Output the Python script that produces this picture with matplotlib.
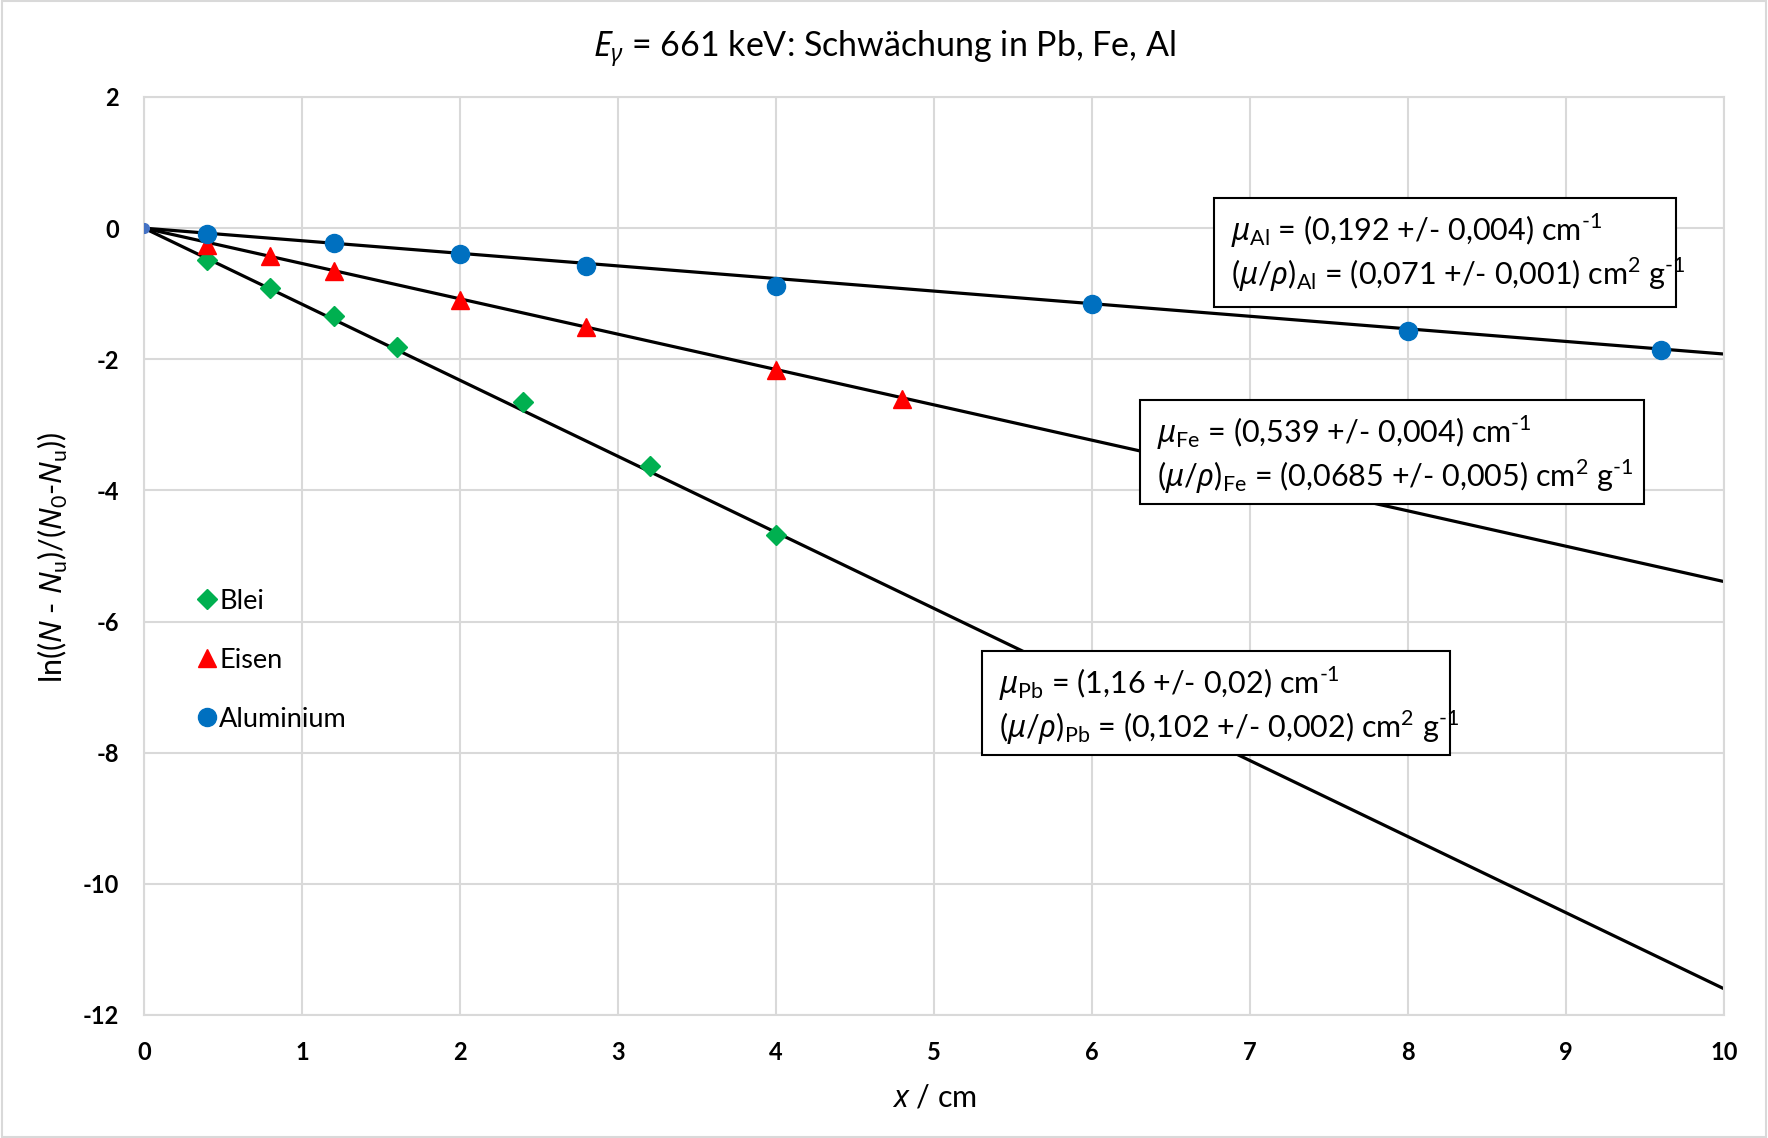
import matplotlib
matplotlib.use('Agg')
import matplotlib.pyplot as plt
from matplotlib.patches import Rectangle
import numpy as np

plt.rcParams['font.family'] = ['Lato', 'DejaVu Sans']
plt.rcParams['mathtext.fontset'] = 'custom'
plt.rcParams['mathtext.rm'] = 'Lato'
plt.rcParams['mathtext.it'] = 'Noto Sans:italic'
plt.rcParams['mathtext.bf'] = 'Lato:bold'
plt.rcParams['axes.unicode_minus'] = False

# measured data
x_pb = [0.4, 0.8, 1.2, 1.6, 2.4, 3.2, 4.0]
y_pb = [-0.48, -0.91, -1.34, -1.81, -2.65, -3.63, -4.68]
x_fe = [0.4, 0.8, 1.2, 2.0, 2.8, 4.0, 4.8]
y_fe = [-0.26, -0.43, -0.65, -1.10, -1.51, -2.17, -2.61]
x_al = [0.4, 1.2, 2.0, 2.8, 4.0, 6.0, 8.0, 9.6]
y_al = [-0.09, -0.22, -0.40, -0.57, -0.88, -1.15, -1.57, -1.86]

# fitted attenuation coefficients (cm^-1)
mu_pb, mu_fe, mu_al = 1.16, 0.539, 0.192
x_fit = np.array([0, 10])

green = '#00B050'
red = '#FF0000'
blue = '#0070C0'
grid_c = '#D9D9D9'

fig = plt.figure(figsize=(17.68, 11.38), dpi=100)
ax = fig.add_axes([144/1768, 1 - 1015/1138, (1724-144)/1768, (1015-97)/1138])

for mu in (mu_pb, mu_fe, mu_al):
    ax.plot(x_fit, -mu * x_fit, color='black', lw=2.3, zorder=2)

ax.plot(x_pb, y_pb, 'D', color=green, ms=10, label='Blei', zorder=3)
ax.plot(x_fe, y_fe, '^', color=red, ms=13, label='Eisen', zorder=3)
ax.plot(x_al, y_al, 'o', color=blue, ms=13, label='Aluminium', zorder=3)
ax.plot([0], [0], 'o', color='#4472C4', ms=7, zorder=4)

ax.set_xlim(0, 10)
ax.set_ylim(-12, 2)
ax.set_xticks(range(0, 11))
ax.set_yticks(range(-12, 3, 2))
ax.grid(True, color=grid_c, lw=1.5)
ax.set_axisbelow(True)
for s in ax.spines.values():
    s.set_color(grid_c)
    s.set_linewidth(1.5)
ax.tick_params(length=0, labelsize=17)
ax.tick_params(axis='x', pad=19)
ax.tick_params(axis='y', pad=18)
for lab in ax.get_xticklabels() + ax.get_yticklabels():
    lab.set_fontweight('bold')

ax.set_xlabel(r'$x$ / cm', fontsize=22, labelpad=14)
fig.text(53/1768, 1 - 558/1138,
         r'ln(($N$ - $N_{\mathrm{u}}$)/($N_{\mathrm{0}}$-$N_{\mathrm{u}}$))',
         rotation=90, ha='center', va='center', fontsize=22)
fig.text(0.5, 1 - 49/1138, r'$E_{\gamma}$ = 661 keV: Schwächung in Pb, Fe, Al',
         ha='center', va='center', fontsize=24.5)

ax.legend(loc='upper left', bbox_to_anchor=(176/1768, 1 - 578/1138),
          bbox_transform=fig.transFigure, frameon=False, fontsize=19.5,
          labelspacing=1.25, handletextpad=-0.3, handlelength=1.5,
          borderaxespad=0)

# result boxes (figure pixel coords: left, top, right, bottom)
boxes = [
    ((1214, 198, 1676, 307),
     r'$\mu_{\mathrm{Al}}$ = (0,192 +/- 0,004) cm$^{\text{-1}}$',
     r'($\mu$/$\rho$)$_{\mathrm{Al}}$ = (0,071 +/- 0,001) cm$^{\mathrm{2}}$ g$^{\text{-1}}$'),
    ((1140, 400, 1644, 504),
     r'$\mu_{\mathrm{Fe}}$ = (0,539 +/- 0,004) cm$^{\text{-1}}$',
     r'($\mu$/$\rho$)$_{\mathrm{Fe}}$ = (0,0685 +/- 0,005) cm$^{\mathrm{2}}$ g$^{\text{-1}}$'),
    ((982, 651, 1450, 755),
     r'$\mu_{\mathrm{Pb}}$ = (1,16 +/- 0,02) cm$^{\text{-1}}$',
     r'($\mu$/$\rho$)$_{\mathrm{Pb}}$ = (0,102 +/- 0,002) cm$^{\mathrm{2}}$ g$^{\text{-1}}$'),
]
W, H = 1768, 1138
for (l, t, r, b), line1, line2 in boxes:
    fig.patches.append(Rectangle((l/W, 1 - b/H), (r-l)/W, (b-t)/H,
                                 transform=fig.transFigure, facecolor='white',
                                 edgecolor='black', lw=1.5, zorder=5))
    fig.text((l+17)/W, 1 - (t+33)/H, line1, fontsize=22, va='center', zorder=6)
    fig.text((l+17)/W, 1 - (t+77)/H, line2, fontsize=22, va='center', zorder=6)

fig.patches.append(Rectangle((0.001, 0.001), 0.998, 0.998, transform=fig.transFigure,
                             fill=False, edgecolor=grid_c, lw=1.5))

plt.savefig('out.png', dpi=100)
